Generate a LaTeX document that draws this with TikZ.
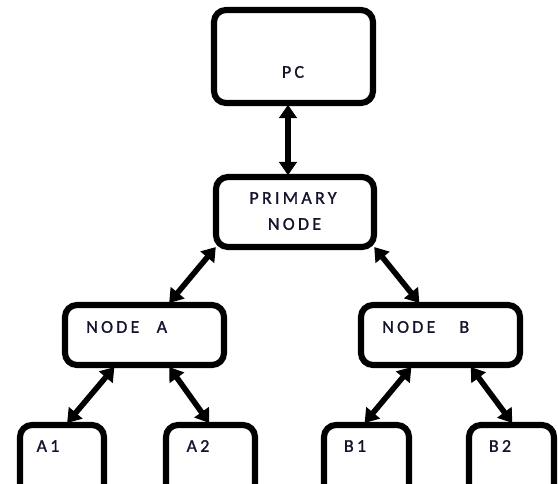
\documentclass[tikz,border=0pt]{standalone}
\usepackage{fontspec}
\setmainfont{Carlito}
\usetikzlibrary{arrows.meta,calc}
\begin{document}
\begin{tikzpicture}[x=0.75pt,y=-0.75pt,
  box/.style={draw, line width=4.6pt, rounded corners=9pt, inner sep=0pt},
  txt/.style={font=\fontsize{13.5}{16}\selectfont\addfontfeatures{LetterSpace=18,FakeBold=1.2}, text={rgb,255:red,20;green,20;blue,45}, inner sep=0pt},
  arr/.style={line width=4.2pt, {Triangle[width=13pt,length=10pt]}-{Triangle[width=13pt,length=10pt]}, shorten <=-1pt, shorten >=-1pt}]
\useasboundingbox (0,0) rectangle (558,483);
\clip (0,0) rectangle (558,483);
% boxes
\node[box, minimum width=119.25pt, minimum height=69.75pt] (pc) at (293.5,56.5) {};
\node[box, minimum width=118.5pt, minimum height=52.5pt] (prim) at (295,212) {};
\node[box, minimum width=119.25pt, minimum height=45pt] (na) at (144.5,335) {};
\node[box, minimum width=119.25pt, minimum height=45pt] (nb) at (440.5,335) {};
\node[box, minimum width=63pt, minimum height=54pt] (a1) at (62,461) {};
\node[box, minimum width=66.75pt, minimum height=54pt] (a2) at (210.5,461) {};
\node[box, minimum width=63.75pt, minimum height=54pt] (b1) at (366.5,461) {};
\node[box, minimum width=63.75pt, minimum height=54pt] (b2) at (511.5,461) {};
% texts
\node[txt] (tpc) at (293,72) {PC};
\node[txt] (tprim1) at (293,198) {PRIMARY};
\node[txt] (tprim2) at (294.5,224) {NODE};
\node[txt, anchor=west] (tna) at (86,327) {NODE\hspace{13pt}A};
\node[txt, anchor=west] (tnb) at (382,327) {NODE\hspace{18pt}B};
\node[txt] (ta1) at (48,446) {A1};
\node[txt] (ta2) at (198,446) {A2};
\node[txt] (tb1) at (355,446) {B1};
\node[txt] (tb2) at (500,446) {B2};
% connectors
\draw[arr] ($(pc.south)+(-5.5,0)$) -- ($(prim.north)+(-7,0)$);
\draw[arr] ($(prim.south west)+(2,-2)$) -- ($(na.north)+(25.5,0)$);
\draw[arr] ($(prim.south east)+(-2,-2)$) -- ($(nb.north)+(-22,0)$);
\draw[arr] ($(na.south)+(-31,0)$) -- ($(a1.north)+(6,0)$);
\draw[arr] ($(na.south)+(25.5,0)$) -- ($(a2.north)+(-2,0)$);
\draw[arr] ($(nb.south)+(-30,0)$) -- ($(b1.north)+(-1,0)$);
\draw[arr] ($(nb.south)+(31,0)$) -- ($(b2.north)+(0,0)$);
\end{tikzpicture}
\end{document}
